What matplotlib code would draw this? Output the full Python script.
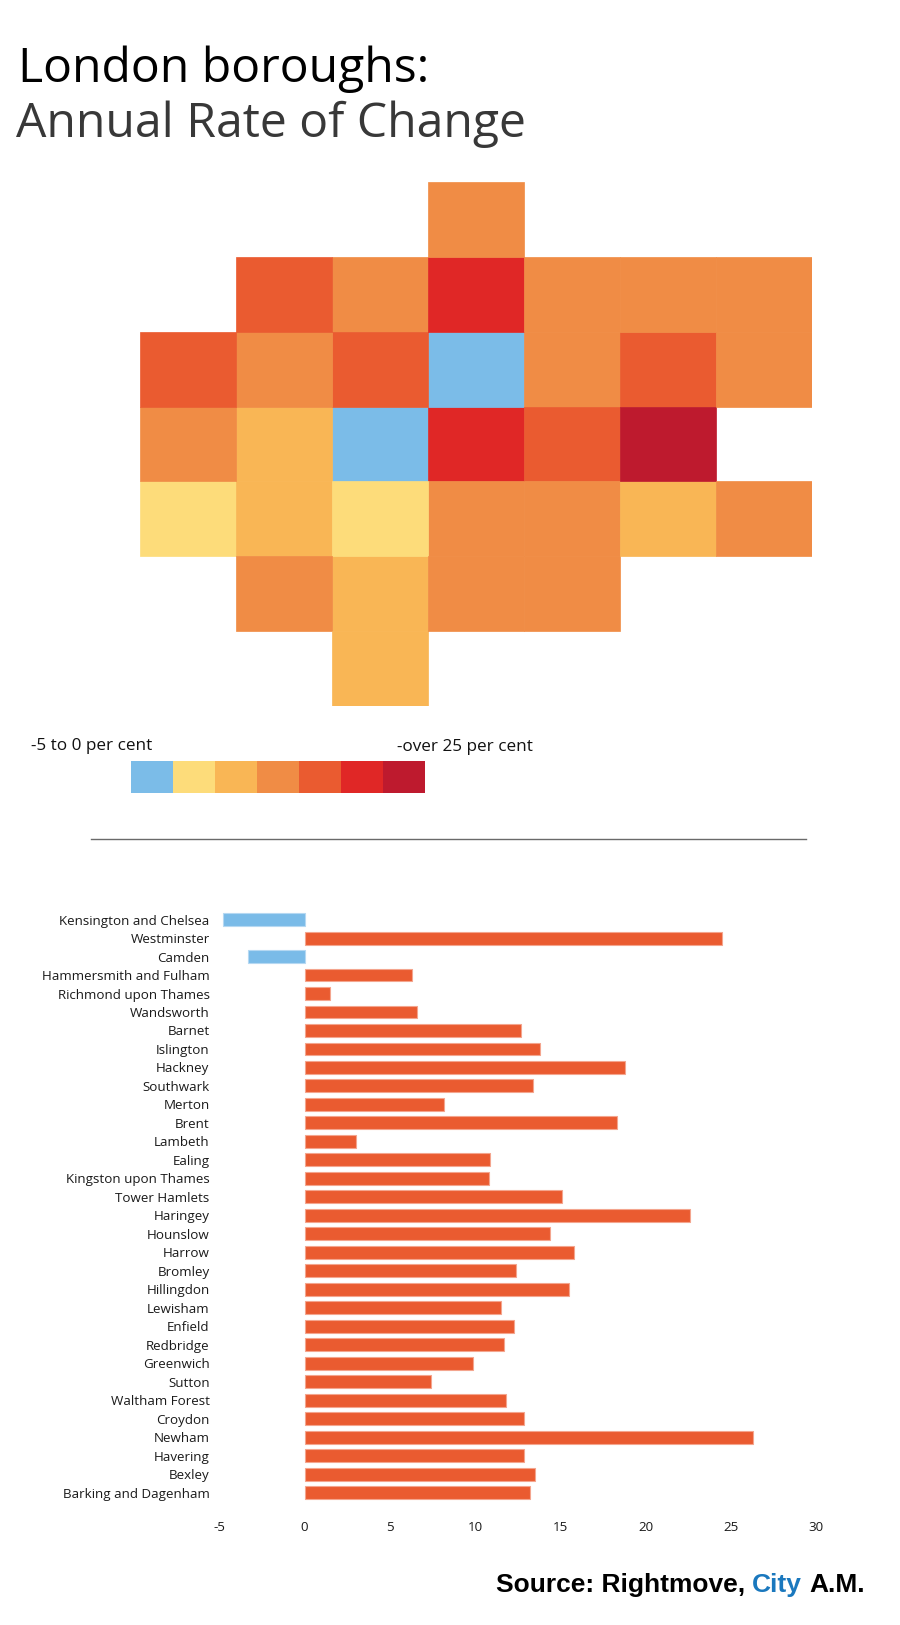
import matplotlib
matplotlib.use("Agg")
import matplotlib.pyplot as plt
import numpy as np
from matplotlib.offsetbox import TextArea, HPacker, AnnotationBbox

# ---------------- data ----------------
boroughs = ["Kensington and Chelsea", "Westminster", "Camden", "Hammersmith and Fulham",
            "Richmond upon Thames", "Wandsworth", "Barnet", "Islington", "Hackney",
            "Southwark", "Merton", "Brent", "Lambeth", "Ealing", "Kingston upon Thames",
            "Tower Hamlets", "Haringey", "Hounslow", "Harrow", "Bromley", "Hillingdon",
            "Lewisham", "Enfield", "Redbridge", "Greenwich", "Sutton", "Waltham Forest",
            "Croydon", "Newham", "Havering", "Bexley", "Barking and Dagenham"]
change = [-4.8, 24.5, -3.3, 6.3, 1.5, 6.6, 12.7, 13.8, 18.8, 13.4, 8.2, 18.3, 3.0, 10.9,
          10.8, 15.1, 22.6, 14.4, 15.8, 12.4, 15.5, 11.5, 12.3, 11.7, 9.9, 7.4, 11.8, 12.9,
          26.3, 12.9, 13.5, 13.2]
x_ticks = [-5, 0, 5, 10, 15, 20, 25, 30]

# legend bins (per cent)
bin_edges = [-5, 0, 5, 10, 15, 20, 25]
bin_colors = ["#7BBCE8", "#FDDC7A", "#F9B655", "#F08C45", "#EA5B30", "#E02726", "#BE1A2E"]
legend_low = "-5 to 0 per cent"
legend_high = "-over 25 per cent"

# tile-grid layout of the boroughs (column, row)
tile_layout = {
    "Enfield": (3, 0),
    "Harrow": (1, 1), "Barnet": (2, 1), "Haringey": (3, 1), "Waltham Forest": (4, 1),
    "Redbridge": (5, 1), "Havering": (6, 1),
    "Hillingdon": (0, 2), "Ealing": (1, 2), "Brent": (2, 2), "Camden": (3, 2),
    "Islington": (4, 2), "Hackney": (5, 2), "Barking and Dagenham": (6, 2),
    "Hounslow": (0, 3), "Hammersmith and Fulham": (1, 3), "Kensington and Chelsea": (2, 3),
    "Westminster": (3, 3), "Tower Hamlets": (4, 3), "Newham": (5, 3),
    "Richmond upon Thames": (0, 4), "Wandsworth": (1, 4), "Lambeth": (2, 4),
    "Southwark": (3, 4), "Lewisham": (4, 4), "Greenwich": (5, 4), "Bexley": (6, 4),
    "Kingston upon Thames": (1, 5), "Merton": (2, 5), "Croydon": (3, 5), "Bromley": (4, 5),
    "Sutton": (2, 6),
}

BAR_BLUE = "#7ABBE8"
BAR_ORANGE = "#EA5B30"

plt.rcParams["font.family"] = ["Open Sans", "DejaVu Sans"]

W, H = 900, 1625
fig = plt.figure(figsize=(W / 100, H / 100), dpi=100)
fig.patch.set_facecolor("white")

def fx(px):
    return px / W

def fy(py):
    return 1 - py / H

# ---------------- title ----------------
fig.text(fx(18), fy(82), "London boroughs:", fontsize=34.7, color="#000000", va="baseline", ha="left")
fig.text(fx(16), fy(137), "Annual Rate of Change", fontsize=34.7, color="#383838", va="baseline", ha="left")

# ---------------- tile map ----------------
def bin_color(v):
    idx = int(np.searchsorted(bin_edges, v, side="right")) - 1
    idx = max(0, min(idx, len(bin_colors) - 1))
    return bin_colors[idx]

axm = fig.add_axes([fx(140), fy(706), fx(672), 524 / H])
cols = [tile_layout[b][0] for b in boroughs]
rows = [tile_layout[b][1] for b in boroughs]
colors = [bin_color(v) for v in change]
axm.bar(cols, height=1.0, bottom=rows, width=1.0, color=colors, edgecolor=colors, linewidth=0.5)
axm.set_xlim(-0.5, 6.5)
axm.set_ylim(7, 0)
axm.axis("off")

# ---------------- legend ----------------
axl = fig.add_axes([fx(131), fy(793), fx(294), 32 / H])
axl.bar(np.arange(len(bin_colors)), height=1.0, width=1.0, color=bin_colors, align="edge")
axl.set_xlim(0, len(bin_colors))
axl.set_ylim(0, 1)
axl.axis("off")
fig.text(fx(31), fy(746), legend_low, fontsize=12.3, color="#111111", va="center", ha="left")
fig.text(fx(397), fy(747), legend_high, fontsize=12.3, color="#111111", va="center", ha="left")

# separator line
fig.add_artist(plt.Line2D([fx(91), fx(806)], [fy(839), fy(839)], color="#6a6a6a", linewidth=1.0))

# ---------------- bar chart ----------------
axb = fig.add_axes([fx(219.3), fy(1502), fx(816 - 219.3), (1502 - 910.3) / H])
y = np.arange(len(boroughs))
bar_cols = [BAR_BLUE if v < 0 else BAR_ORANGE for v in change]
edge_cols = ["#B5D8F2" if v < 0 else "#F4A58E" for v in change]
axb.barh(y, change, height=0.7, color=bar_cols, edgecolor=edge_cols, linewidth=0.8)
axb.set_xlim(-5, 30)
axb.set_ylim(len(boroughs) - 0.5, -0.5)
axb.set_yticks(y)
axb.set_yticklabels(boroughs, fontsize=9.6, color="#1a1a1a")
axb.set_xticks(x_ticks)
axb.set_xticklabels([str(t) for t in x_ticks], fontsize=9.6, color="#1a1a1a")
axb.tick_params(axis="both", length=0)
axb.tick_params(axis="y", pad=7)
axb.tick_params(axis="x", pad=13.5)
for s in axb.spines.values():
    s.set_visible(False)

# ---------------- source ----------------
tp = dict(family=["Liberation Sans", "DejaVu Sans"], fontweight="bold", fontsize=19)
box = HPacker(children=[TextArea("Source: Rightmove,", textprops=dict(color="#000000", **tp)),
                        TextArea("City", textprops=dict(color="#1A78BE", **tp)),
                        TextArea("A.M.", textprops=dict(color="#000000", **tp))],
              align="baseline", pad=0, sep=5.2)
ab = AnnotationBbox(box, (fx(865), fy(1585)), xycoords="figure fraction",
                    box_alignment=(1, 0.5), frameon=False, pad=0)
fig.add_artist(ab)

fig.savefig("out.png", dpi=100, facecolor="white")
